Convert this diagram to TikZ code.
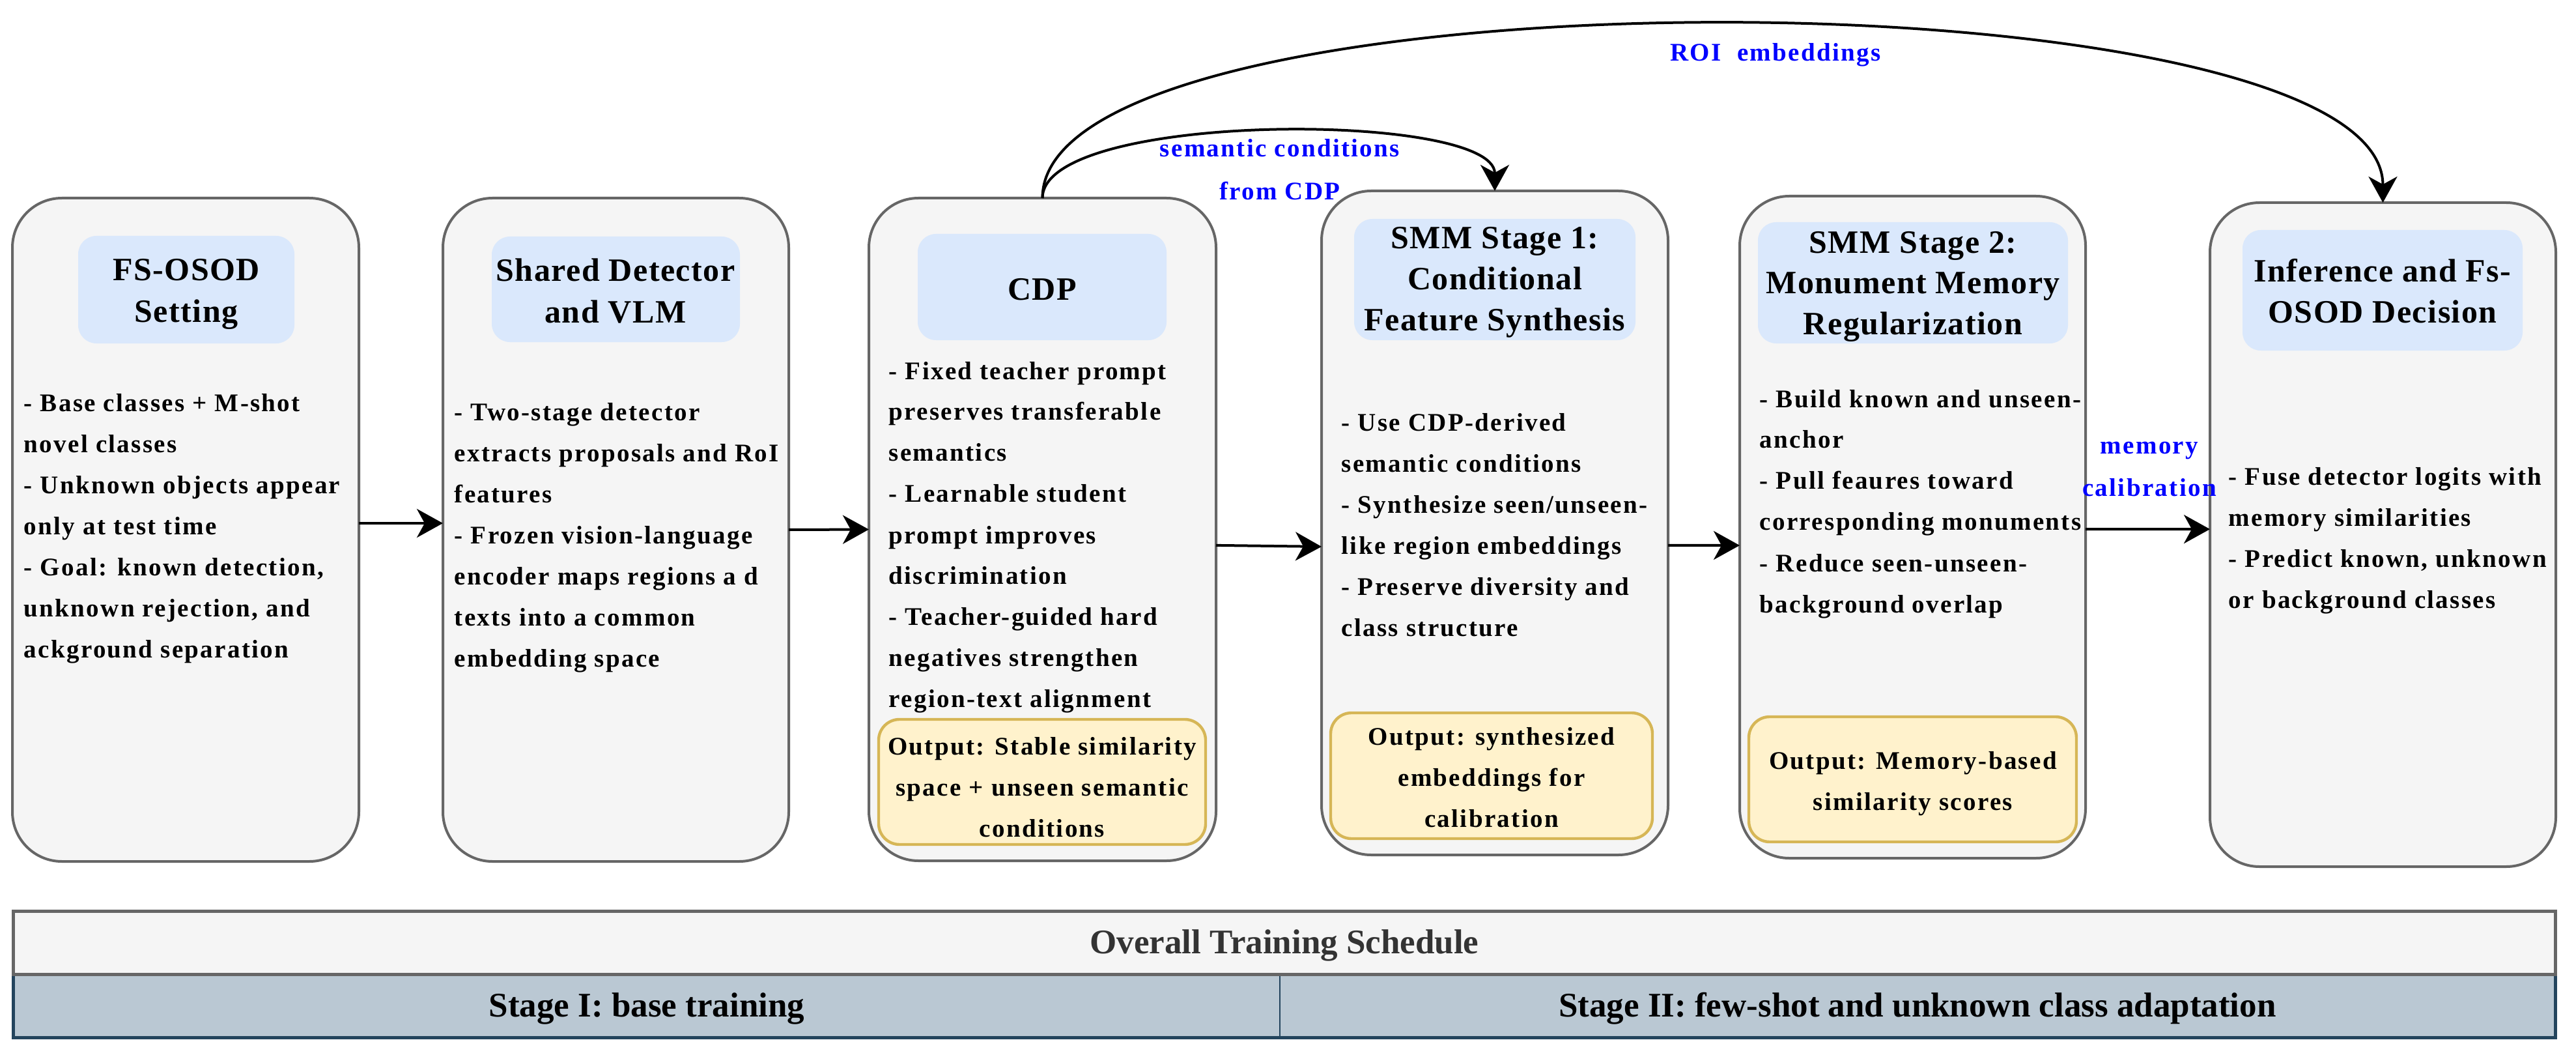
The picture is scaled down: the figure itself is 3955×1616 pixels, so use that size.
\documentclass[tikz,border=0pt]{standalone}
\usepackage{fontspec}
\setmainfont{Liberation Serif}
\newfontfamily\lsfont[LetterSpace=6]{Liberation Serif}
\newfontfamily\ttlfont[LetterSpace=3]{Liberation Serif}
\usetikzlibrary{arrows.meta,fit}

\definecolor{boxgray}{HTML}{F5F5F5}
\definecolor{boxline}{HTML}{666666}
\definecolor{titlefill}{HTML}{DAE8FC}
\definecolor{outfill}{HTML}{FFF2CC}
\definecolor{outdraw}{HTML}{D6B656}
\definecolor{stagefill}{HTML}{BAC8D3}
\definecolor{stageline}{HTML}{23445D}
\definecolor{schedtext}{HTML}{333333}
\definecolor{lblblue}{HTML}{0000FF}

\newcommand{\leftlines}[2]{\vtop{\baselineskip=#1\lineskiplimit=-100pt\lineskip=0pt\halign{##\hfil\cr#2\crcr}}}
\newcommand{\centerlines}[2]{\vtop{\baselineskip=#1\lineskiplimit=-100pt\lineskip=0pt\halign{\hfil##\hfil\cr#2\crcr}}}

\tikzset{
  mainbox/.style={draw=boxline, fill=boxgray, line width=1pt, rounded corners=19pt, inner sep=0pt, outer sep=0pt},
  titlebox/.style={fill=titlefill, draw=none, rounded corners=7pt, inner sep=0pt, outer sep=0pt},
  outbox/.style={fill=outfill, draw=outdraw, line width=1.1pt, rounded corners=8pt, inner sep=0pt, outer sep=0pt},
  bodytext/.style={anchor=base west, inner sep=0pt, font=\lsfont\bfseries\fontsize{9.75}{15.75}\selectfont},
  titletext/.style={anchor=base, inner sep=0pt, font=\ttlfont\bfseries\fontsize{12.5}{16.25}\selectfont},
  outtext/.style={anchor=base, inner sep=0pt, font=\lsfont\bfseries\fontsize{9.75}{15.75}\selectfont},
  lbl/.style={anchor=base, inner sep=0pt, text=lblblue, font=\lsfont\bfseries\fontsize{9.75}{16.5}\selectfont},
  arr/.style={-{Stealth[length=10pt,width=11pt,inset=3pt]}, line width=1pt},
  stagecell/.style={fill=stagefill, draw=stageline, line width=0.4pt, inner sep=0pt, outer sep=0pt},
  schedbox/.style={fill=boxgray, draw=boxline, line width=1.25pt, inner sep=0pt, outer sep=0pt},
  bandtext/.style={anchor=base, inner sep=0pt, font=\bfseries\fontsize{13.25}{16}\selectfont},
}

\begin{document}
\begin{tikzpicture}[x=0.25pt, y=-0.25pt]
\useasboundingbox[fill=white] (0,0) rectangle (3955,1616);

% ---------- main boxes ----------
\node[mainbox, fit={(19,304) (551,1322)}] (b1) {};
\node[mainbox, fit={(680,304) (1211,1322)}] (b2) {};
\node[mainbox, fit={(1334,304) (1867,1321)}] (b3) {};
\node[mainbox, fit={(2029,293) (2561,1312)}] (b4) {};
\node[mainbox, fit={(2671,301) (3202,1317)}] (b5) {};
\node[mainbox, fit={(3393,311) (3924,1330)}] (b6) {};

% ---------- title boxes ----------
\node[titlebox, fit={(120,362) (452,527)}] (t1) {};
\node[titlebox, fit={(755,363) (1136,525)}] (t2) {};
\node[titlebox, fit={(1409,359) (1791,522)}] (t3) {};
\node[titlebox, fit={(2079,336) (2511,522)}] (t4) {};
\node[titlebox, fit={(2699,341) (3175,527)}] (t5) {};
\node[titlebox, fit={(3443,353) (3873,538)}] (t6) {};

\node[titletext] (tt1) at (286,430) {\centerlines{16.25pt}{FS-OSOD\cr Setting}};
\node[titletext] (tt2) at (945,431) {\centerlines{16.25pt}{Shared Detector\cr and VLM}};
\node[titletext] (tt3) at (1600,460) {CDP};
\node[titletext] (tt4) at (2295,382) {\centerlines{15.75pt}{SMM Stage 1:\cr Conditional\cr Feature Synthesis}};
\node[titletext] (tt5) at (2937,388) {\centerlines{15.75pt}{SMM Stage 2:\cr Monument Memory\cr Regularization}};
\node[titletext] (tt6) at (3658,433) {\centerlines{15.75pt}{Inference and Fs-\cr OSOD Decision}};

% ---------- body texts ----------
\node[bodytext] (x1) at (36,631) {\leftlines{15.75pt}{- Base classes + M-shot\cr
novel classes\cr
- Unknown objects appear\cr
only at test time\cr
- Goal: known detection,\cr
unknown rejection, and\cr
ackground separation}};
\node[bodytext] (x2) at (697,645) {\leftlines{15.75pt}{- Two-stage detector\cr
extracts proposals and RoI\cr
features\cr
- Frozen vision-language\cr
encoder maps regions a d\cr
texts into a common\cr
embedding space}};
\node[bodytext] (x3) at (1364,582) {\leftlines{15.75pt}{- Fixed teacher prompt\cr
preserves transferable\cr
semantics\cr
- Learnable student\cr
prompt improves\cr
discrimination\cr
- Teacher-guided hard\cr
negatives strengthen\cr
region-text alignment}};
\node[bodytext] (x4) at (2059,661) {\leftlines{15.75pt}{- Use CDP-derived\cr
semantic conditions\cr
- Synthesize seen/unseen-\cr
like region embeddings\cr
- Preserve diversity and\cr
class structure}};
\node[bodytext] (x5) at (2701,625) {\leftlines{15.75pt}{- Build known and unseen-\cr
anchor\cr
- Pull feaures toward\cr
corresponding monuments\cr
- Reduce seen-unseen-\cr
background overlap}};
\node[bodytext] (x6) at (3421,744) {\leftlines{15.75pt}{- Fuse detector logits with\cr
memory similarities\cr
- Predict known, unknown\cr
or background classes}};

% ---------- output boxes ----------
\node[outbox, fit={(1349,1104) (1851,1296)}] (o3) {};
\node[outbox, fit={(2043,1094) (2537,1287)}] (o4) {};
\node[outbox, fit={(2685,1100) (3188,1292)}] (o5) {};
\node[outtext] (ot3) at (1600,1158) {\centerlines{15.75pt}{Output: Stable similarity\cr space + unseen semantic\cr conditions}};
\node[outtext] (ot4) at (2290,1143) {\centerlines{15.75pt}{Output: synthesized\cr embeddings for\cr calibration}};
\node[outtext] (ot5) at (2937,1180) {\centerlines{15.75pt}{Output: Memory-based\cr similarity scores}};

% ---------- connectors ----------
\draw[arr] ([yshift=2.5pt]b1.east) -- ([yshift=2.5pt]b2.west);
\draw[arr] (b2.east) -- (b3.west);
\draw[arr] ([yshift=-6.1pt]b3.east) -- ([yshift=-9.1pt]b4.west);
\draw[arr] ([yshift=-8.6pt]b4.east) -- ([yshift=-7pt]b5.west);
\draw[arr] ([yshift=-0.75pt]b5.east) -- ([yshift=2.1pt]b6.west);
\draw[arr] (b3.north) .. controls +(0,-134) and +(0,-123) .. (b4.north);
\draw[arr] (b3.north) .. controls +(0,-360) and +(0,-360) .. (b6.north);

% ---------- connector labels ----------
\node[lbl] (lsem) at (1965,241) {\centerlines{16.5pt}{semantic conditions\cr from CDP}};
\node[lbl] (lroi) at (2726,94) {ROI\ \ embeddings};
\node[lbl] (lmem) at (3300,696) {\centerlines{16.5pt}{memory\cr calibration}};

% ---------- training schedule band ----------
\node[stagecell, fit={(20.5,1495) (1965,1592.5)}] (s1) {};
\node[stagecell, fit={(1965,1495) (3923.5,1592.5)}] (s2) {};
\draw[stageline, line width=1.25pt] (s1.north west) -- (s1.south west) -- (s2.south east) -- (s2.north east);
\node[schedbox, fit={(20.5,1398) (3923.5,1495)}] (sched) {};
\node[bandtext, text=schedtext] (schedlbl) at (1972,1463) {Overall Training Schedule};
\node[bandtext] (s1lbl) at (993,1560) {Stage I: base training};
\node[bandtext] (s2lbl) at (2944,1560) {Stage II: few-shot and unknown class adaptation};
\end{tikzpicture}
\end{document}
